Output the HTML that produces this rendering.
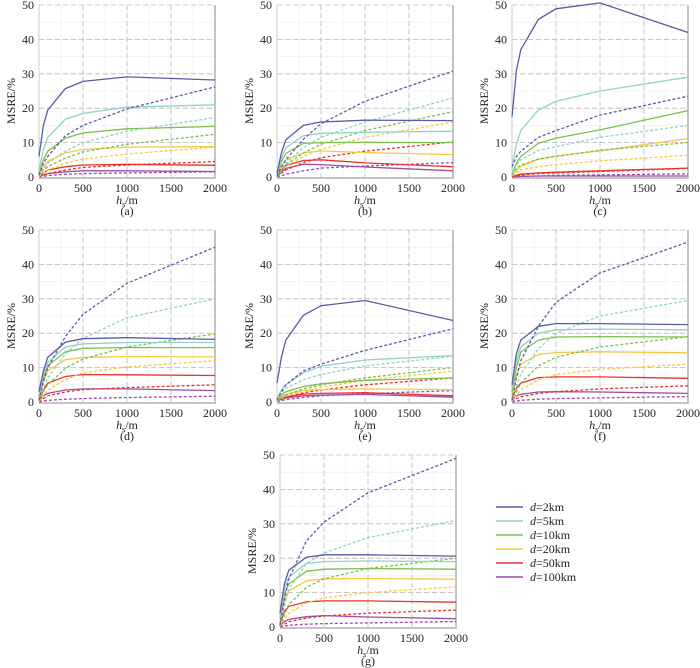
<!DOCTYPE html>
<html><head><meta charset="utf-8"><style>
html,body{margin:0;padding:0;background:#fff;}
svg{display:block;font-family:"Liberation Serif",serif;}
svg text{font-family:"Liberation Serif",serif;}
</style></head><body>
<svg id="c" width="700" height="668" viewBox="0 0 700 668" xmlns="http://www.w3.org/2000/svg"></svg>
<script>
const hValues = [0, 50, 100, 300, 500, 1000, 2000];
const xTicks = [0, 500, 1000, 1500, 2000];
const yTicks = [0, 10, 20, 30, 40, 50];
const seriesNames = ["d=2km", "d=5km", "d=10km", "d=20km", "d=50km", "d=100km"];
const seriesColors = ["#5b5aa6", "#8fd3c4", "#7dbf4c", "#f7c843", "#e8332b", "#9b4da8"];
const panelLabels = ["(a)", "(b)", "(c)", "(d)", "(e)", "(f)", "(g)"];
const solidA = [[6,15,19.5,25.7,27.8,29.1,28.2],[2,8,11.5,16.8,18.5,20.3,21],[1,5,7.5,11.3,12.8,14,14.7],[0.5,3,4.5,7,8,8.7,8.8],[0.3,1.2,2,3,3.5,3.7,3.4],[0.1,0.6,1,1.5,1.8,1.8,1.6]];
const dashA = [[0.5,4,6,12,15,19.8,26.2],[0.3,2.5,4,7.5,10,13.3,17.3],[0.2,2,3,5.5,7.3,9.5,12.4],[0.1,1.2,2,4,5.2,6.7,8.7],[0.1,0.6,1,2,2.8,3.5,4.5],[0,0.2,0.4,0.8,1,1.2,1.5]];
const solidB = [[1,7,10.8,15,16,16.5,16.4],[0.8,5.5,8.5,12,12.7,13,13.3],[0.5,4.5,6.8,9.8,10,10.1,10],[0.3,3,5,7,7.6,7.1,6.5],[0.2,2,3.3,4.8,5,4.1,3],[0.1,1.5,2.5,3.7,3.6,2.9,1.8]];
const dashB = [[0.2,3,5,11,15.5,22,30.8],[0.2,2.5,4,8.5,11.5,16,23],[0.2,2,3.5,7,9.5,13.5,19],[0.1,1.8,3,6,8,11.5,16],[0.1,1.2,2,4.2,5.6,7.5,10.2],[0,0.4,0.8,1.8,2.6,3.2,4.2]];
const solidC = [[17.5,31,37,45.8,48.9,50.6,42],[3,9.5,13.5,19.5,22,25,29],[1,4,6,9.8,11.3,13.7,19.3],[0.4,2,3,5.2,6.1,7.6,11.2],[0.1,0.5,0.8,1.2,1.4,1.8,2.6],[0,0.1,0.2,0.3,0.3,0.3,0.3]];
const dashC = [[3,6,7.5,11.5,13.5,18,23.5],[1,3.5,5,7.7,8.8,11.5,15],[0.5,2.5,3.5,5.2,6,7.8,10],[0.3,1.3,2,3,3.6,4.7,6.3],[0.1,0.4,0.6,1,1.2,1.6,2.5],[0,0.1,0.2,0.3,0.5,0.6,0.9]];
const solidD = [[3,9,13,17.4,18.4,18.7,18.2],[2,8,11.5,16,16.9,17.3,17.3],[1.5,7,10.5,14.6,15.6,15.8,15.8],[1,6,9,12.3,13,13.2,13.1],[0.5,3.5,5.5,7.4,8,7.9,7.7],[0.3,1.8,2.5,3.5,3.8,3.8,3.3]];
const dashD = [[0.5,6,10,19,25.5,34.5,45],[0.3,4,7,14,18.5,24.5,30],[0.2,3,5,9.8,12.5,16,19.8],[0.1,2,3.5,6.5,8.5,10.2,12],[0.1,1,1.8,2.9,3.6,4.2,5],[0,0.3,0.5,0.8,1,1.3,1.7]];
const solidE = [[5.5,13,18,25.2,28,29.5,23.7],[1,3.5,5,8.5,10.4,12.2,13.5],[0.5,2,3,4.5,5.3,6.3,7],[0.3,1.5,2.2,3.3,3.6,3.8,3.6],[0.2,1,1.5,2.3,2.5,2.7,1.8],[0.1,0.8,1.2,1.8,2,2.2,1.4]];
const dashE = [[0.5,3,5,9,11,15,21.3],[0.3,2.5,4,6.5,8,10.5,13.3],[0.2,1.2,2,3.8,5,7,10],[0.1,1,1.7,3.3,4.3,6.3,9],[0.1,0.8,1.3,2.7,3.5,5,7],[0,0.4,0.7,1.3,1.8,2.4,3.3]];
const solidF = [[5,14,18,22,22.8,22.8,22.5],[4,12,16,20,21,21.2,21],[3,10,14.5,18,18.9,19,18.9],[2,7.5,11,13.8,14.4,14.6,14.3],[1,4,5.5,7.1,7.3,7.3,6.9],[0.4,1.8,2.2,2.9,3,2.9,2.5]];
const dashF = [[0.5,7,12,22,29,37.5,46.5],[0.3,4.5,8,15.5,20,25,29.5],[0.2,3,5.5,10.5,13,16,19],[0.1,2,3.5,6.5,8,9.5,11],[0.1,1,1.5,2.5,3,3.8,4.7],[0,0.3,0.5,0.8,1,1.2,1.6]];
const solidG = [[4,12.5,16.5,20.3,21,21,20.6],[3,11,14.5,18.5,19,19.2,19],[2.5,9.5,12.5,16.2,16.8,17,16.8],[2,7.5,10.5,13.4,14,14.1,13.9],[1,4.5,6,7.3,7.6,7.6,7.2],[0.4,1.6,2.2,3,3.3,2.9,2.4]];
const dashG = [[0.5,8,14,25,30.5,39,49],[0.3,6,11,18.5,21.5,26,31],[0.2,3.5,6.5,11.5,14,17,20],[0.1,2.5,4,7,8.5,10,11.7],[0.1,0.8,1.5,2.6,3.2,4,4.9],[0,0.3,0.5,0.8,1,1.2,1.6]];
const solidAll = [solidA, solidB, solidC, solidD, solidE, solidF, solidG];
const dashAll = [dashA, dashB, dashC, dashD, dashE, dashF, dashG];

const NS = "http://www.w3.org/2000/svg";
const svg = document.getElementById("c");
const FONT = '"Liberation Serif", serif';
function mk(tag, attrs, parent) {
  const e = document.createElementNS(NS, tag);
  for (const k in attrs) e.setAttribute(k, attrs[k]);
  if (tag === "text") e.setAttribute("font-family", FONT);
  (parent || svg).appendChild(e);
  return e;
}
const frames = [[39,215,177,5],[277,453,177,5],[512,688,177,5],[39,215,402,230],[277,453,402,230],[512,688,402,230],[280,456,627,455]];

frames.forEach((f, p) => {
  const [L, R, B, T] = f;
  const sx = v => L + (v / 2000) * (R - L);
  const sy = v => B - (v / 50) * (B - T);
  const g = mk("g", {});
  
  
  for (let v = 250; v < 2000; v += 250) mk("line", {x1: sx(v), x2: sx(v), y1: T, y2: B, stroke: "#eee", "stroke-width": 0.6}, g);
  for (let v = 5; v <= 50; v += 5) mk("line", {x1: L, x2: R, y1: sy(v), y2: sy(v), stroke: "#eee", "stroke-width": 0.6}, g);
  xTicks.slice(1, -1).forEach(v => mk("line", {x1: sx(v), x2: sx(v), y1: T, y2: B, stroke: "#b9b9b9", "stroke-width": 0.8, "stroke-dasharray": "5,3"}, g));
  yTicks.slice(1).forEach(v => mk("line", {x1: L, x2: R, y1: sy(v), y2: sy(v), stroke: "#b9b9b9", "stroke-width": 0.8, "stroke-dasharray": "5,3"}, g));
  mk("line", {x1: L, x2: L, y1: T, y2: B, stroke: "#ccc", "stroke-width": 1}, g);
  mk("line", {x1: R, x2: R, y1: T, y2: B + 1, stroke: "#c4c4c4", "stroke-width": 2}, g);
  mk("line", {x1: L, x2: R + 1, y1: B + 1, y2: B + 1, stroke: "#c4c4c4", "stroke-width": 2}, g);
  xTicks.forEach(v => {
    const t = mk("text", {x: sx(v), y: B + 15, "text-anchor": "middle", "font-size": 12, fill: "#222"}, g);
    t.textContent = v;
    
    
  });
  yTicks.forEach(v => {
    const t = mk("text", {x: L - 5, y: sy(v) + 4, "text-anchor": "end", "font-size": 12, fill: "#222"}, g);
    t.textContent = v;
    
    
  });
  const yl = mk("text", {x: 0, y: 0, "text-anchor": "middle", "font-size": 12, fill: "#222", transform: `translate(${L - 24},${(B + T) / 2 + 10}) rotate(-90)`}, g);
  yl.textContent = "MSRE/%";
  
  
  const xl = mk("text", {x: (L + R) / 2, y: B + 27, "text-anchor": "middle", "font-size": 12, fill: "#222"}, g);
  xl.innerHTML = '<tspan font-style="italic">h</tspan><tspan font-size="8" dy="3">s</tspan><tspan dy="-3">/m</tspan>';
  
  
  const pl = mk("text", {x: (L + R) / 2, y: B + 38, "text-anchor": "middle", "font-size": 12, fill: "#222"}, g);
  pl.textContent = panelLabels[p];
  
  
  for (let s = 5; s >= 0; s--) {
    [[dashAll[p][s], "3,2"], [solidAll[p][s], null]].forEach(([vals, dash]) => {
      const pts = vals.map((v, i) => sx(hValues[i]).toFixed(1) + "," + sy(v).toFixed(1)).join(" ");
      const a = {points: pts, fill: "none", stroke: seriesColors[s], "stroke-width": 1.3};
      if (dash) a["stroke-dasharray"] = dash;
      const pl2 = mk("polyline", a, g);
      
      
    });
  }
});

const lg = mk("g", {});


seriesNames.forEach((n, i) => {
  const y = 507 + i * 14;
  const ln = mk("line", {x1: 496, x2: 523, y1: y, y2: y, stroke: seriesColors[i], "stroke-width": 1.5}, lg);
  
  
  const t = mk("text", {x: 530, y: y + 4, "font-size": 12, fill: "#222"}, lg);
  t.innerHTML = '<tspan font-style="italic">d</tspan>' + n.slice(1);
  
  
});
</script>
</body></html>
